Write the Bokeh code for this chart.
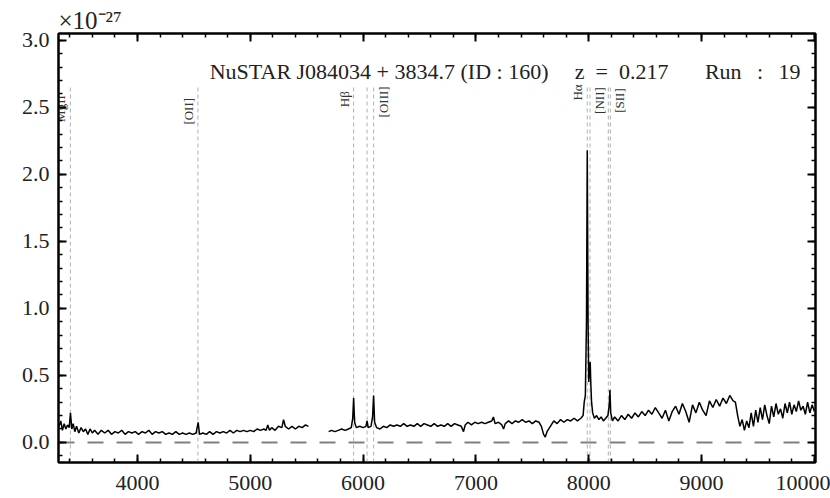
import numpy as np
from bokeh.plotting import figure
from bokeh.models import Range1d, LinearAxis, Label, SingleIntervalTicker, PrintfTickFormatter
from bokeh.embed import file_html
from bokeh.resources import INLINE
from bokeh.core.properties import value

# ---------------- data ----------------
redshift = 0.217
title_parts = ["NuSTAR J084034 + 3834.7 (ID : 160)", "z\u2002=\u20020.217", "Run\u2002\u2009:\u2002\u200919"]
scale_text = "\u00d710\u207b\u00b2\u2077"

wave_blue = [3305, 3320, 3335, 3350, 3365, 3380, 3395, 3406, 3418, 3430, 3445, 3460, 3480,
             3500, 3520, 3540, 3560, 3580, 3600, 3620, 3650, 3680, 3710, 3740, 3770, 3800,
             3830, 3860, 3890, 3920, 3950, 3980, 4010, 4040, 4070, 4100, 4130, 4160, 4190,
             4220, 4250, 4280, 4310, 4340, 4370, 4400, 4430, 4460, 4490, 4520, 4538, 4550,
             4580, 4610, 4640, 4670, 4700, 4730, 4760, 4790, 4820, 4850, 4880, 4910, 4940,
             4970, 5000, 5030, 5060, 5090, 5120, 5140, 5155, 5170, 5190, 5220, 5250, 5280,
             5295, 5310, 5340, 5370, 5400, 5430, 5460, 5490, 5515]
flux_blue = [0.12, 0.16, 0.09, 0.14, 0.10, 0.13, 0.11, 0.22, 0.10, 0.14, 0.08, 0.12, 0.07,
             0.11, 0.08, 0.10, 0.06, 0.10, 0.07, 0.09, 0.06, 0.09, 0.07, 0.09, 0.06, 0.08,
             0.07, 0.09, 0.06, 0.08, 0.07, 0.08, 0.06, 0.08, 0.07, 0.09, 0.06, 0.08, 0.07,
             0.08, 0.06, 0.07, 0.06, 0.08, 0.06, 0.07, 0.06, 0.07, 0.06, 0.07, 0.15, 0.06,
             0.07, 0.06, 0.08, 0.06, 0.08, 0.07, 0.08, 0.07, 0.09, 0.07, 0.09, 0.08, 0.09,
             0.08, 0.09, 0.08, 0.10, 0.09, 0.10, 0.09, 0.13, 0.09, 0.11, 0.09, 0.12, 0.11,
             0.17, 0.12, 0.10, 0.12, 0.10, 0.12, 0.11, 0.13, 0.12]

wave_red = [5695, 5720, 5750, 5780, 5810, 5840, 5870, 5895, 5908, 5916, 5925, 5940, 5970,
            6000, 6025, 6035, 6045, 6070, 6084, 6093, 6102, 6120, 6150, 6180, 6210, 6240,
            6270, 6300, 6330, 6360, 6390, 6420, 6450, 6480, 6510, 6540, 6570, 6600, 6630,
            6660, 6690, 6720, 6750, 6780, 6810, 6840, 6870, 6890, 6905, 6930, 6960, 6990,
            7020, 7050, 7080, 7110, 7140, 7155, 7170, 7200, 7230, 7245, 7260, 7290, 7320,
            7350, 7380, 7410, 7440, 7470, 7500, 7530, 7560, 7580, 7600, 7615, 7630, 7660,
            7690, 7720, 7750, 7780, 7810, 7840, 7870, 7900, 7930, 7950, 7960, 7970, 7980,
            7987, 7994, 8000, 8008, 8013, 8018, 8025, 8035, 8050, 8070, 8090, 8110, 8130,
            8150, 8170, 8182, 8188, 8195, 8210, 8230, 8260, 8290, 8320, 8350, 8380, 8410,
            8440, 8470, 8500, 8530, 8560, 8590, 8620, 8650, 8680, 8710, 8740, 8770, 8800,
            8830, 8860, 8890, 8920, 8950, 8980, 9010, 9040, 9070, 9100, 9130, 9160, 9190,
            9220, 9250, 9280, 9300, 9320, 9340, 9360, 9380, 9400, 9420, 9440, 9460, 9480,
            9500, 9520, 9540, 9560, 9580, 9600, 9620, 9640, 9660, 9680, 9700, 9720, 9740,
            9760, 9780, 9800, 9820, 9840, 9860, 9880, 9900, 9920, 9940, 9960, 9980, 10000]
flux_red = [0.08, 0.09, 0.08, 0.09, 0.10, 0.09, 0.10, 0.11, 0.18, 0.33, 0.15, 0.11, 0.12,
            0.11, 0.12, 0.16, 0.11, 0.12, 0.19, 0.35, 0.15, 0.11, 0.10, 0.12, 0.11, 0.13,
            0.12, 0.13, 0.12, 0.14, 0.12, 0.13, 0.12, 0.14, 0.12, 0.14, 0.13, 0.12, 0.14,
            0.12, 0.13, 0.12, 0.14, 0.12, 0.14, 0.13, 0.12, 0.08, 0.13, 0.15, 0.13, 0.15,
            0.14, 0.15, 0.14, 0.15, 0.16, 0.19, 0.14, 0.15, 0.13, 0.10, 0.14, 0.16, 0.14,
            0.16, 0.15, 0.17, 0.15, 0.16, 0.14, 0.16, 0.15, 0.12, 0.06, 0.04, 0.08, 0.12,
            0.16, 0.14, 0.17, 0.15, 0.17, 0.16, 0.18, 0.16, 0.18, 0.20, 0.30, 0.35, 0.90,
            2.18, 0.90, 0.45, 0.55, 0.60, 0.45, 0.30, 0.22, 0.18, 0.20, 0.17, 0.19, 0.16,
            0.18, 0.20, 0.28, 0.39, 0.22, 0.16, 0.19, 0.16, 0.20, 0.17, 0.21, 0.18, 0.22,
            0.19, 0.23, 0.20, 0.24, 0.21, 0.26, 0.22, 0.18, 0.24, 0.16, 0.23, 0.27, 0.21,
            0.29, 0.23, 0.15, 0.28, 0.22, 0.30, 0.24, 0.20, 0.31, 0.26, 0.32, 0.27, 0.33,
            0.29, 0.35, 0.31, 0.30, 0.20, 0.12, 0.17, 0.09, 0.16, 0.11, 0.22, 0.12, 0.24,
            0.15, 0.26, 0.17, 0.28, 0.20, 0.14, 0.27, 0.19, 0.29, 0.21, 0.25, 0.18, 0.29,
            0.22, 0.30, 0.21, 0.28, 0.23, 0.31, 0.24, 0.27, 0.21, 0.30, 0.22, 0.28, 0.23]

# emission lines (rest wavelengths, Angstrom)
line_rest = [2798, 3727, 4861, 4959, 5007, 6563, 6583, 6716, 6731]
label_names = ["MgII", "[OII]", "H\u03b2", "[OIII]", "H\u03b1", "[NII]", "[SII]"]
label_rest = [2798, 3727, 4861, 5007, 6563, 6583, 6731]
label_side = ["left", "left", "left", "right", "left", "right", "right"]

# ---------------- layout / style ----------------
FONT = "Liberation Serif"
label_y = [2.49, 2.47, 2.56, 2.54, 2.61, 2.55, 2.55]
title_offsets = [-267, -147, -15]

p = figure(width=830, height=498, output_backend="svg", toolbar_location=None,
           x_range=Range1d(3300, 10010), y_range=Range1d(-0.15, 3.05),
           min_border_left=58, min_border_right=15, min_border_top=33, min_border_bottom=36,
           x_axis_location=None, y_axis_location=None)
p.grid.visible = False
p.outline_line_color = "black"
p.outline_line_width = 2
p.background_fill_color = "white"
p.border_fill_color = "white"

p.title.text = scale_text
p.title.align = "left"
p.title.text_font = FONT
p.title.text_font_size = "25px"
p.title.text_font_style = "normal"
p.title.text_color = "#222222"
p.title.standoff = 0


def style_axis(ax, show_labels):
    ax.axis_line_color = "black"
    ax.axis_line_width = 2
    ax.major_tick_in = 8
    ax.major_tick_out = 0
    ax.minor_tick_in = 4
    ax.minor_tick_out = 0
    ax.major_tick_line_width = 2
    ax.minor_tick_line_width = 1.5
    ax.major_tick_line_color = "black"
    ax.minor_tick_line_color = "black"
    if show_labels:
        ax.major_label_text_font = FONT
        ax.major_label_text_font_size = "22px"
        ax.major_label_text_color = "#222222"
    else:
        ax.major_label_text_font_size = "1px"
        ax.major_label_text_color = None
        ax.major_label_standoff = 0


bottom = LinearAxis(ticker=SingleIntervalTicker(interval=1000, num_minor_ticks=5))
style_axis(bottom, True)
bottom.major_label_standoff = 13
p.add_layout(bottom, "below")

top = LinearAxis(ticker=SingleIntervalTicker(interval=1000, num_minor_ticks=5))
style_axis(top, False)
p.add_layout(top, "above")

left = LinearAxis(ticker=SingleIntervalTicker(interval=0.5, num_minor_ticks=5),
                  formatter=PrintfTickFormatter(format="%.1f"))
style_axis(left, True)
left.major_label_standoff = 9
p.add_layout(left, "left")

right = LinearAxis(ticker=SingleIntervalTicker(interval=0.5, num_minor_ticks=5))
style_axis(right, False)
p.add_layout(right, "right")

# zero line
p.line(x=[3300, 10010], y=[0, 0], line_color="#808080", line_width=2, line_dash="16 13")

# emission line markers
line_obs = [w * (1 + redshift) for w in line_rest]
p.segment(x0=line_obs, y0=[-0.15] * len(line_obs), x1=line_obs, y1=[2.65] * len(line_obs),
          line_color="#b0b0b0", line_width=1, line_dash="4 3")

# spectrum
p.line(x=wave_blue, y=flux_blue, line_color="black", line_width=1.5)
p.line(x=wave_red, y=flux_red, line_color="black", line_width=1.5)

# line labels
lab_obs = [w * (1 + redshift) for w in label_rest]
for side, off, base in (("left", -2, "bottom"), ("right", 2, "top")):
    idx = [i for i, s in enumerate(label_side) if s == side]
    p.text(x=[lab_obs[i] for i in idx], y=[label_y[i] for i in idx],
           text=[label_names[i] for i in idx], angle=np.pi / 2,
           text_font=value(FONT), text_font_size="13px", text_color="#333333",
           text_align="center", text_baseline=base, x_offset=off)

# title inside the frame
for txt, off in zip(title_parts, title_offsets):
    p.add_layout(Label(x=10010, y=3.05, x_offset=off, y_offset=-38, text=txt,
                       text_font=FONT, text_font_size="22px", text_color="#222222",
                       text_align="right", text_baseline="alphabetic"))

open("out.html", "w").write(file_html(p, INLINE))
